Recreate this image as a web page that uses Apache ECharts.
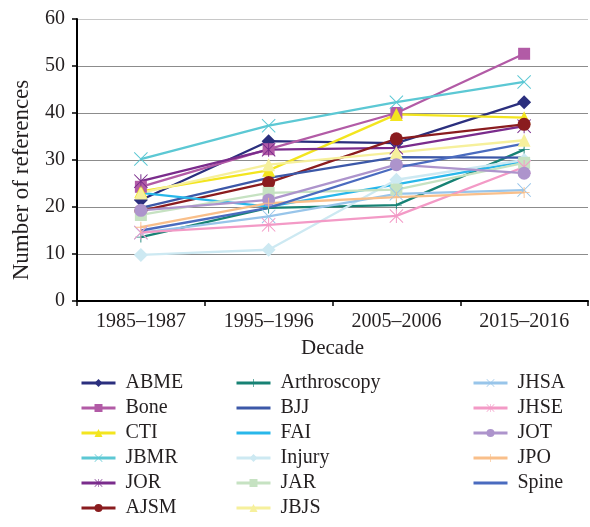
<!DOCTYPE html>
<html>
<head>
<meta charset="utf-8">
<script src="https://cdn.jsdelivr.net/npm/echarts@6/dist/echarts.min.js"></script>
<style>
html, body { margin: 0; padding: 0; background: #fff; }
#container { width: 590px; height: 527px; }
</style>
</head>
<body>
<div id="container"></div>
<script>
// decades on the x axis
const decades = ['1985–1987', '1995–1996', '2005–2006', '2015–2016']

// number of references per journal, one value per decade
const ABME = [21.5, 34.0, 33.6, 42.3]
const Bone = [24.3, 32.3, 40.0, 52.6]
const CTI = [23.3, 27.8, 39.7, 39.0]
const JBMR = [30.2, 37.3, 42.3, 46.6]
const JOR = [25.5, 32.2, 32.6, 37.2]
const AJSM = [19.2, 25.2, 34.5, 37.6]
const Arthroscopy = [13.6, 19.8, 20.4, 32.2]
const BJJ = [19.8, 26.2, 30.6, 30.5]
const FAI = [23.0, 20.1, 24.8, 29.7]
const Injury = [9.8, 10.9, 25.8, 30.0]
const JAR = [18.3, 23.0, 23.7, 29.4]
const JBJS = [23.0, 29.0, 31.6, 34.2]
const JHSA = [14.5, 18.0, 22.8, 23.6]
const JHSE = [14.6, 16.2, 18.1, 28.5]
const JOT = [19.3, 21.5, 29.0, 27.2]
const JPO = [15.7, 20.8, 22.1, 23.1]
const Spine = [15.0, 19.8, 28.4, 33.5]

const legendCol1 = ['ABME', 'Bone', 'CTI', 'JBMR', 'JOR', 'AJSM']
const legendCol2 = ['Arthroscopy', 'BJJ', 'FAI', 'Injury', 'JAR', 'JBJS']
const legendCol3 = ['JHSA', 'JHSE', 'JOT', 'JPO', 'Spine']

const journals = {
    ABME, Bone, CTI, JBMR, JOR, AJSM, Arthroscopy, BJJ, FAI,
    Injury, JAR, JBJS, JHSA, JHSE, JOT, JPO, Spine
}

// marker shapes (excel style x / asterisk / plus)
const X_SHAPE = 'M0,1L1,0L10,9L19,0L20,1L11,10L20,19L19,20L10,11L1,20L0,19L9,10Z'
const X_MARK = 'path://' + X_SHAPE
const STAR_MARK = 'path://' + X_SHAPE + 'M9.3,0H10.7V20H9.3Z'
const PLUS_MARK = 'path://M9.2,0H10.8V9.2H20V10.8H10.8V20H9.2V10.8H0V9.2H9.2Z'

const looks = {
    ABME: { color: '#2b2f7e', symbol: 'diamond', size: 14 },
    Bone: { color: '#b25ba6', symbol: 'rect', size: 12 },
    CTI: { color: '#f3e51f', symbol: 'triangle', size: 13 },
    JBMR: { color: '#5cc8d4', symbol: X_MARK, size: 14 },
    JOR: { color: '#7a2c8c', symbol: STAR_MARK, size: 14 },
    AJSM: { color: '#8a1c1f', symbol: 'circle', size: 13 },
    Arthroscopy: { color: '#178274', symbol: PLUS_MARK, size: 11 },
    BJJ: { color: '#3c58a8', symbol: 'none', size: 0 },
    FAI: { color: '#28b7ea', symbol: 'none', size: 0 },
    Injury: { color: '#cde9f2', symbol: 'diamond', size: 14 },
    JAR: { color: '#c6e2c2', symbol: 'rect', size: 12 },
    JBJS: { color: '#f6f09c', symbol: 'triangle', size: 13 },
    JHSA: { color: '#98c5ea', symbol: X_MARK, size: 14 },
    JHSE: { color: '#f39ac6', symbol: STAR_MARK, size: 14 },
    JOT: { color: '#ad94cc', symbol: 'circle', size: 13 },
    JPO: { color: '#f9bf8a', symbol: PLUS_MARK, size: 11 },
    Spine: { color: '#4a6bbf', symbol: 'none', size: 0 }
}

const FONT = 'Liberation Serif'
const INK = '#231f20'

const series = Object.keys(journals).map(name => {
    let look = looks[name]
    let noMark = look.symbol === 'none'
    return {
        name: name,
        type: 'line',
        data: journals[name],
        symbol: noMark ? 'circle' : look.symbol,
        symbolSize: look.size,
        showSymbol: !noMark,
        lineStyle: { color: look.color, width: 2.3 },
        itemStyle: { color: look.color, borderWidth: 0 },
        emphasis: { disabled: true }
    }
})

const legendItems = names => names.map(name => {
    if (looks[name].symbol === 'none') {
        return { name: name, itemStyle: { color: 'rgba(0,0,0,0)', borderWidth: 0, opacity: 0 } }
    }
    return { name: name }
})

const legendBase = {
    orient: 'vertical',
    top: 373,
    itemWidth: 34,
    itemHeight: 10,
    itemGap: 5,
    padding: 0,
    selectedMode: false,
    lineStyle: { width: 3 },
    textStyle: { fontFamily: FONT, fontSize: 20, color: INK, padding: [0, 0, 0, 5] }
}

let chart = echarts.init(document.getElementById('container'))

chart.setOption({
    animation: false,
    backgroundColor: '#fff',
    grid: { left: 77, right: 2, top: 19, bottom: 226 },
    legend: [
        Object.assign({}, legendBase, { left: 80, data: legendItems(legendCol1) }),
        Object.assign({}, legendBase, { left: 235, data: legendItems(legendCol2) }),
        Object.assign({}, legendBase, { left: 472, data: legendItems(legendCol3) })
    ],
    graphic: [{
        type: 'text',
        x: 22,
        y: 180,
        rotation: Math.PI / 2,
        style: {
            text: 'Number of references',
            fontFamily: FONT,
            fontSize: 23,
            fill: INK,
            align: 'center',
            verticalAlign: 'middle'
        }
    }],
    xAxis: {
        type: 'category',
        data: decades,
        boundaryGap: true,
        name: 'Decade',
        nameLocation: 'middle',
        nameGap: 37,
        nameTextStyle: { fontFamily: FONT, fontSize: 21, color: INK },
        axisLine: { lineStyle: { color: '#000', width: 2 } },
        axisTick: { show: true, length: 5, lineStyle: { color: '#000', width: 1.5 } },
        axisLabel: { fontFamily: FONT, fontSize: 20, color: INK, margin: 11 },
        splitLine: { show: false }
    },
    yAxis: {
        type: 'value',
        min: 0,
        max: 60,
        interval: 10,
        axisLine: { show: true, lineStyle: { color: '#000', width: 2 } },
        axisTick: { show: true, length: 5, lineStyle: { color: '#000', width: 1.5 } },
        axisLabel: { fontFamily: FONT, fontSize: 20, color: INK, margin: 12 },
        splitLine: {
            show: true,
            lineStyle: { color: ['#8c8c8c', '#8c8c8c', '#8c8c8c', '#8c8c8c', '#8c8c8c', '#8c8c8c', '#c8c8c8'], width: 1 }
        }
    },
    series: series
})
</script>
</body>
</html>
